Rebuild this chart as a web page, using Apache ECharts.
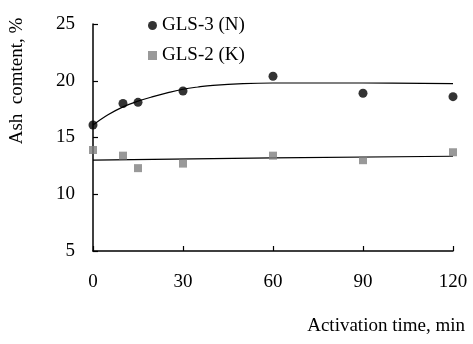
<!DOCTYPE html>
<html><head><meta charset="utf-8">
<script src="https://cdn.jsdelivr.net/npm/echarts@6/dist/echarts.min.js"></script>
<style>html,body{margin:0;padding:0;background:#fff}#c{width:473px;height:344px}</style>
</head><body><div id="c"></div>
<script>
// Data
const timesMin = [0, 10, 15, 30, 60, 90, 120];
const gls3N = [16.1, 18.0, 18.1, 19.1, 20.4, 18.9, 18.6];
const gls2K = [13.9, 13.4, 12.3, 12.7, 13.4, 13.0, 13.7];
// Fitted trend curves
const fit3Times = [0, 5, 10, 15, 20, 25, 30, 35, 40, 50, 60, 90, 120];
const fit3Vals  = [16.1, 17.0, 17.7, 18.2, 18.6, 18.95, 19.25, 19.45, 19.6, 19.75, 19.8, 19.8, 19.75];
const fit2Times = [0, 60, 120];
const fit2Vals  = [13.0, 13.2, 13.35];
const xTicks = [0, 30, 60, 90, 120];
const yTicks = [5, 10, 15, 20, 25];

const pairs = (xs, ys) => xs.map((x, i) => [x, ys[i]]);
const font = '"Liberation Serif", "Times New Roman", serif';

const chart = echarts.init(document.getElementById('c'), null, {renderer: 'canvas'});
chart.setOption({
  animation: false,
  backgroundColor: '#fff',
  grid: {left: 86, top: 24, right: 20, bottom: 93, containLabel: false},
  legend: {
    orient: 'vertical', left: 143, top: 11, itemGap: 11, itemWidth: 9, itemHeight: 9, itemTextGap: 9,
    data: [{name: 'GLS-3 (N)', icon: 'circle'}, {name: 'GLS-2 (K)', icon: 'rect'}],
    textStyle: {fontFamily: font, fontSize: 19, color: '#000', lineHeight: 19}
  },
  xAxis: {
    type: 'value', min: xTicks[0], max: xTicks[xTicks.length - 1], interval: 30,
    name: 'Activation time, min', nameLocation: 'end', nameGap: 12,
    nameTextStyle: {fontFamily: font, fontSize: 19, color: '#000', align: 'right', verticalAlign: 'top', padding: [66, 0, 0, 0]},
    axisLine: {lineStyle: {color: '#000', width: 1.5}},
    axisTick: {inside: true, length: 5, lineStyle: {color: '#000', width: 1.2}},
    axisLabel: {fontFamily: font, fontSize: 19, color: '#000', margin: 22},
    splitLine: {show: false}
  },
  yAxis: {
    type: 'value', min: yTicks[0], max: yTicks[yTicks.length - 1], interval: 5,
    name: 'Ash  comtent, %', nameLocation: 'middle', nameRotate: 90, nameGap: 66,
    nameTextStyle: {fontFamily: font, fontSize: 19, color: '#000', padding: [0, 0, 0, 113]},
    axisLine: {lineStyle: {color: '#000', width: 1.5}},
    axisTick: {inside: true, length: 5, lineStyle: {color: '#000', width: 1.2}},
    axisLabel: {fontFamily: font, fontSize: 19, color: '#000', margin: 18},
    splitLine: {show: false}
  },
  series: [
    {name: 'fit3', type: 'line', data: pairs(fit3Times, fit3Vals), smooth: 0.4, showSymbol: false,
     lineStyle: {color: '#000', width: 1.2}, silent: true, z: 1},
    {name: 'fit2', type: 'line', data: pairs(fit2Times, fit2Vals), smooth: true, showSymbol: false,
     lineStyle: {color: '#000', width: 1.2}, silent: true, z: 1},
    {name: 'GLS-3 (N)', type: 'scatter', data: pairs(timesMin, gls3N), symbol: 'circle', symbolSize: 9,
     itemStyle: {color: '#000'}, z: 3},
    {name: 'GLS-2 (K)', type: 'scatter', data: pairs(timesMin, gls2K), symbol: 'rect', symbolSize: 8,
     itemStyle: {color: '#808080'}, z: 3}
  ]
});
</script></body></html>
